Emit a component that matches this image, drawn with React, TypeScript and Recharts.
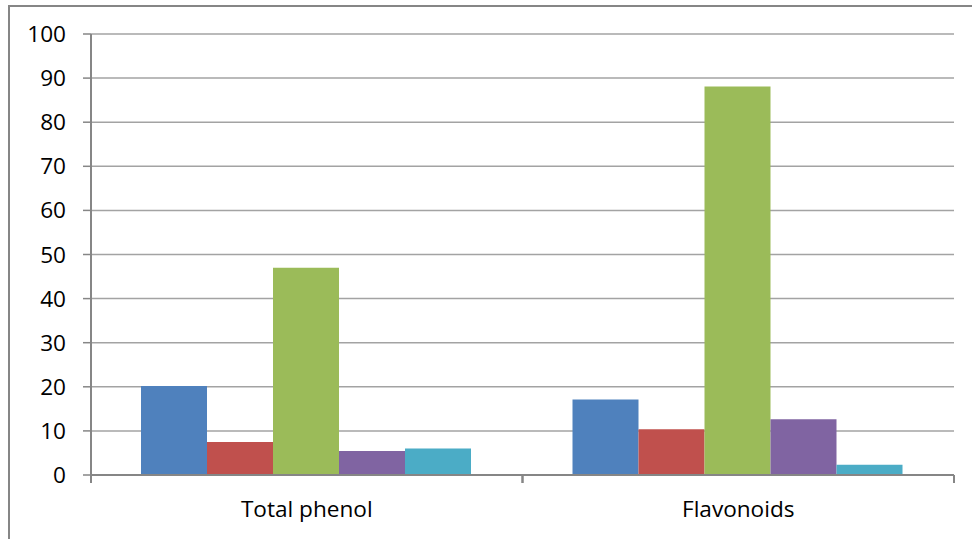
import { BarChart, Bar, XAxis, YAxis, CartesianGrid } from 'recharts'

const categories = ['Total phenol', 'Flavonoids']
const series1 = [20.2, 17.1]
const series2 = [7.5, 10.4]
const series3 = [47.0, 88.1]
const series4 = [5.45, 12.65]
const series5 = [6.0, 2.35]
const yTicks = [0, 10, 20, 30, 40, 50, 60, 70, 80, 90, 100]

const colors = ['#4F81BD', '#C0504D', '#9BBB59', '#8064A2', '#4BACC6']
const axisColor = '#868686'

const data = categories.map((name, i) => ({
    name,
    s1: series1[i],
    s2: series2[i],
    s3: series3[i],
    s4: series4[i],
    s5: series5[i],
}))

// category label plus the boundary tick marks Excel draws between categories
function CategoryTick(props: any) {
    const { x, y, payload, width, visibleTicksCount } = props
    const half = typeof payload.offset === 'number' && payload.offset > 0
        ? payload.offset
        : width / (2 * (visibleTicksCount || 1))
    const axisY = y - 26
    return (
        <g>
            <line x1={x - half} x2={x - half} y1={axisY} y2={axisY + 8} stroke={axisColor} strokeWidth={2} />
            <line x1={x + half} x2={x + half} y1={axisY} y2={axisY + 8} stroke={axisColor} strokeWidth={2} />
            <text x={x} y={y} dy="0.7em" textAnchor="middle" fontSize={22.6} fill="#000">
                {payload.value}
            </text>
        </g>
    )
}

export default function App() {
    return (
        <div style={{ position: 'fixed', left: 0, top: 0, width: 972, height: 539, overflow: 'hidden', background: '#fff', fontFamily: '"Open Sans", sans-serif' }}>
            <div style={{ position: 'absolute', left: 8, top: 5, width: 1000, height: 600, borderLeft: '2px solid #868686', borderTop: '2px solid #868686' }} />
            <div style={{ position: 'absolute', left: 0, top: 0 }}>
                <BarChart
                    width={972}
                    height={539}
                    data={data}
                    margin={{ top: 34, right: 18, left: 0, bottom: 0 }}
                    barCategoryGap={50}
                    barGap={0}
                >
                    <CartesianGrid vertical={false} stroke="#a3a3a3" strokeWidth={1.5} />
                    <XAxis
                        dataKey="name"
                        height={64}
                        axisLine={{ stroke: axisColor, strokeWidth: 2 }}
                        tickLine={false}
                        tickSize={8}
                        tickMargin={18}
                        tick={<CategoryTick />}
                        interval={0}
                    />
                    <YAxis
                        width={91}
                        domain={[0, 100]}
                        ticks={yTicks}
                        interval={0}
                        axisLine={{ stroke: axisColor, strokeWidth: 2 }}
                        tickLine={{ stroke: axisColor, strokeWidth: 1.5 }}
                        tickSize={8}
                        tickMargin={17}
                        tick={{ fill: '#000', fontSize: 22.6 }}
                    />
                    <Bar dataKey="s1" fill={colors[0]} isAnimationActive={false} />
                    <Bar dataKey="s2" fill={colors[1]} isAnimationActive={false} />
                    <Bar dataKey="s3" fill={colors[2]} isAnimationActive={false} />
                    <Bar dataKey="s4" fill={colors[3]} isAnimationActive={false} />
                    <Bar dataKey="s5" fill={colors[4]} isAnimationActive={false} />
                </BarChart>
            </div>
        </div>
    )
}
